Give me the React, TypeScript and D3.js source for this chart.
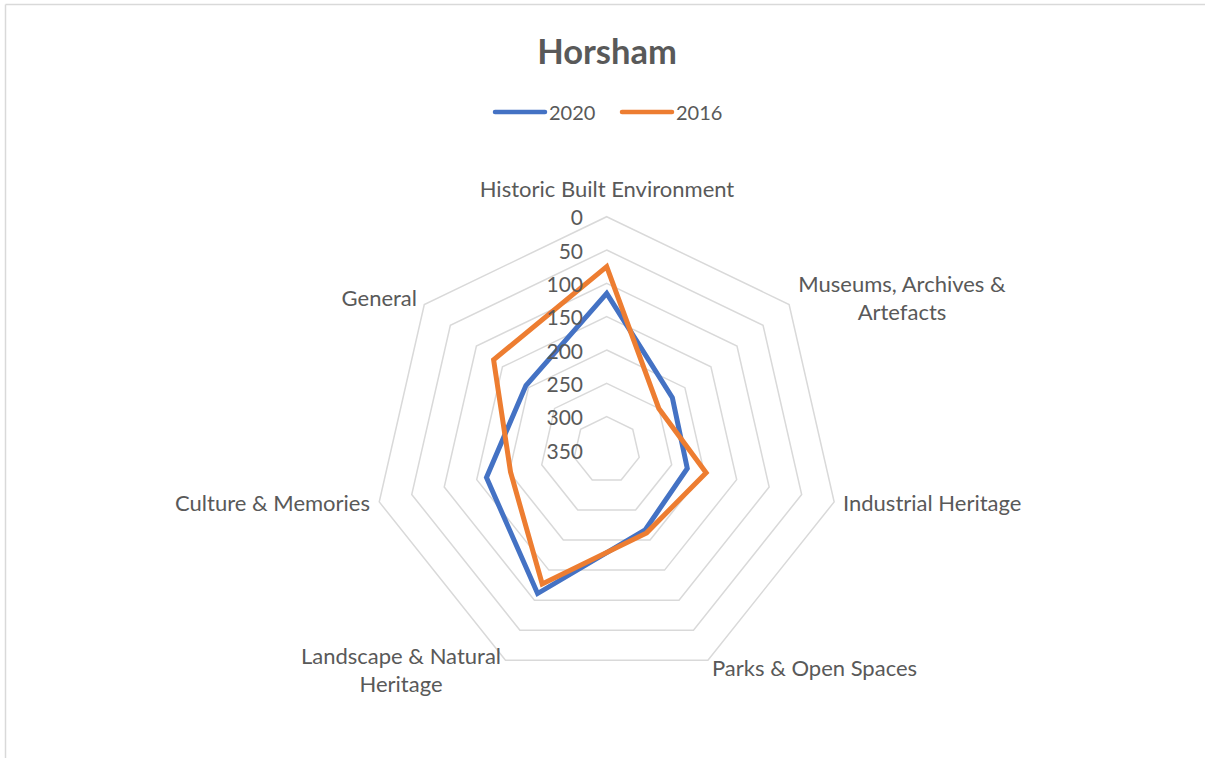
import React from "react";
import * as d3 from "d3";

const categories = [
  ["Historic Built Environment"],
  ["Museums, Archives &", "Artefacts"],
  ["Industrial Heritage"],
  ["Parks & Open Spaces"],
  ["Landscape & Natural", "Heritage"],
  ["Culture & Memories"],
  ["General"],
];
const series2020 = [115, 224, 226, 217, 111, 165, 195];
const series2016 = [75, 250, 197, 212, 127, 202, 133];
const seriesNames = ["2020", "2016"];
const tickValues = [0, 50, 100, 150, 200, 250, 300, 350];

const W = 1205;
const H = 758;
const cx = 606.7;
const cy = 450;
const R = 233.3;
const FONT = "Lato, 'Open Sans', sans-serif";
const TXT = "#595959";
const COLORS = ["#4472C4", "#ED7D31"];

export default function App() {
  const n = categories.length;
  const rScale = d3.scaleLinear().domain([350, 0]).range([0, R]);
  const angle = (i: number) => (i * 2 * Math.PI) / n;
  const pt = (i: number, r: number): [number, number] => [
    cx + r * Math.sin(angle(i)),
    cy - r * Math.cos(angle(i)),
  ];
  const ringVals = tickValues.filter((v) => v < 350);
  const ringPath = (v: number) =>
    d3.range(n).map((i) => pt(i, rScale(v)).join(",")).join(" ");
  const line = d3
    .lineRadial<number>()
    .angle((_, i) => angle(i))
    .radius((d) => rScale(d))
    .curve(d3.curveLinearClosed);

  const labelPos: { x: number; y: number; anchor: string }[] = [
    { x: 607, y: 188, anchor: "middle" },
    { x: 902, y: 283, anchor: "middle" },
    { x: 843, y: 502, anchor: "start" },
    { x: 712, y: 667, anchor: "start" },
    { x: 401, y: 655, anchor: "middle" },
    { x: 370, y: 502, anchor: "end" },
    { x: 417, y: 297, anchor: "end" },
  ];

  return (
    <svg width={W} height={H} style={{ position: "absolute", left: 0, top: 0 }}>
      <rect x={0} y={0} width={W} height={H} fill="#fff" />
      <line x1={5.5} y1={4.5} x2={W} y2={4.5} stroke="#d9d9d9" strokeWidth={1.5} />
      <line x1={5.5} y1={4.5} x2={5.5} y2={H} stroke="#d9d9d9" strokeWidth={1.5} />
      <text x={607} y={50} textAnchor="middle" dominantBaseline="central" fontFamily={FONT} fontWeight="bold" fontSize={34.5} fill={TXT}>
        Horsham
      </text>
      {seriesNames.map((s, k) => (
        <g key={s}>
          <line x1={495 + k * 127} x2={545 + k * 127} y1={112} y2={112} stroke={COLORS[k]} strokeWidth={4.5} strokeLinecap="round" />
          <text x={549 + k * 127} y={112} dominantBaseline="central" fontFamily={FONT} fontSize={20} fill={TXT}>
            {s}
          </text>
        </g>
      ))}
      <g>
        {ringVals.map((v) => (
          <polygon key={v} points={ringPath(v)} fill="none" stroke="#d9d9d9" strokeWidth={1.5} />
        ))}
      </g>
      <g transform={`translate(${cx},${cy})`}>
        {[series2020, series2016].map((s, k) => (
          <path key={k} d={line(s) as string} fill="none" stroke={COLORS[k]} strokeWidth={5} strokeLinejoin="miter" />
        ))}
      </g>
      {tickValues.map((v) => (
        <text key={v} x={583} y={cy - rScale(v)} textAnchor="end" dominantBaseline="central" fontFamily={FONT} fontSize={21} fill={TXT}>
          {v}
        </text>
      ))}
      {categories.map((lines, i) => (
        <text key={i} textAnchor={labelPos[i].anchor as any} fontFamily={FONT} fontSize={22} fill={TXT}>
          {lines.map((l, j) => (
            <tspan key={j} x={labelPos[i].x} y={labelPos[i].y + j * 28} dominantBaseline="central">
              {l}
            </tspan>
          ))}
        </text>
      ))}
    </svg>
  );
}
